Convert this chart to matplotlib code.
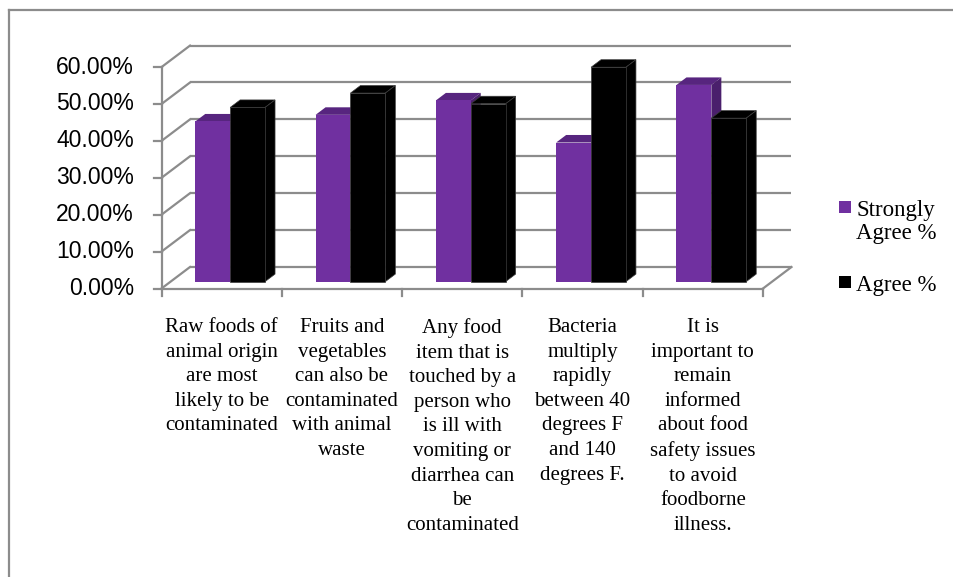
import matplotlib
matplotlib.use("Agg")
import matplotlib.pyplot as plt
from matplotlib.patches import Polygon, Rectangle
from matplotlib.lines import Line2D

# ---- data -------------------------------------------------------------
categories = [
    "Raw foods of\nanimal origin\nare most\nlikely to be\ncontaminated",
    "Fruits and\nvegetables\ncan also be\ncontaminated\nwith animal\nwaste",
    "Any food\nitem that is\ntouched by a\nperson who\nis ill with\nvomiting or\ndiarrhea can\nbe\ncontaminated",
    "Bacteria\nmultiply\nrapidly\nbetween 40\ndegrees F\nand 140\ndegrees F.",
    "It is\nimportant to\nremain\ninformed\nabout food\nsafety issues\nto avoid\nfoodborne\nillness.",
]
strongly_agree = [43.4, 45.2, 49.1, 37.7, 53.3]
agree = [47.2, 51.1, 48.2, 58.1, 44.3]
series_names = ["Strongly\nAgree %", "Agree %"]
y_ticks = [0, 10, 20, 30, 40, 50, 60]
y_tick_labels = ["0.00%", "10.00%", "20.00%", "30.00%", "40.00%", "50.00%", "60.00%"]

# ---- styling ----------------------------------------------------------
W, H, DPI = 954, 577, 100
PX_CAT = 120.3          # pixels per category on the front plane
PX_PCT = 3.69           # pixels per percent
DEPTH_X = 28.5 / PX_CAT  # depth offset of back wall (data units)
DEPTH_Y = 21.5 / PX_PCT
BAR_W = 0.29
BAR_D0, BAR_D1 = 0.32, 0.67  # bar depth span as a fraction of the wall depth
GRID = "#8c8c8c"
purple = dict(front="#7030A0", top="#57257f", side="#4a1f6c")
black = dict(front="#000000", top="#000000", side="#000000")

fig = plt.figure(figsize=(W / DPI, H / DPI), dpi=DPI)
n = len(categories)
ax_left, ax_bottom = 161.5, 288.5
ax_w = (n + DEPTH_X) * PX_CAT
ax_h = (60 + DEPTH_Y) * PX_PCT
ax = fig.add_axes([ax_left / W, (H - ax_bottom) / H, ax_w / W, ax_h / H])
ax.set_xlim(0, n + DEPTH_X)
ax.set_ylim(0, 60 + DEPTH_Y)
ax.axis("off")

glw = 1.6
# back wall gridlines and side-wall diagonals
for v, lab in zip(y_ticks, y_tick_labels):
    ax.plot([DEPTH_X, n + DEPTH_X], [v + DEPTH_Y, v + DEPTH_Y], color=GRID,
            lw=glw, zorder=1, clip_on=False, solid_capstyle="butt")
    ax.plot([0, DEPTH_X], [v, v + DEPTH_Y], color=GRID, lw=glw, zorder=1,
            clip_on=False)
    # tick marks on the front value axis
    ax.plot([-8 / PX_CAT, 0], [v, v], color=GRID, lw=glw, zorder=1, clip_on=False)
    ax.text(-27.5 / PX_CAT, v, lab, ha="right", va="center", fontsize=16.5,
            family="Liberation Sans", color="#000000")

# front value axis, floor front edge and right floor edge
ax.plot([0, 0], [-7 / PX_PCT, 60], color=GRID, lw=glw, zorder=1, clip_on=False)
ax.plot([0, n], [0, 0], color=GRID, lw=glw, zorder=1, clip_on=False)
ax.plot([n, n + DEPTH_X], [0, DEPTH_Y], color=GRID, lw=glw, zorder=1, clip_on=False)
for i in range(1, n + 1):
    ax.plot([i, i], [0, -7 / PX_PCT], color=GRID, lw=glw, zorder=1, clip_on=False)

# bars: front faces through ax.bar, top and right faces as polygons
x0 = BAR_D0 * DEPTH_X
y0 = BAR_D0 * DEPTH_Y
dx = (BAR_D1 - BAR_D0) * DEPTH_X
dy = (BAR_D1 - BAR_D0) * DEPTH_Y
centers = [i + 0.495 for i in range(n)]
for k, (vals, col) in enumerate([(strongly_agree, purple), (agree, black)]):
    lefts = [c - BAR_W + k * BAR_W + x0 for c in centers]
    ec = "#3c3c3c" if col is black else "none"
    ax.bar(lefts, vals, width=BAR_W, bottom=y0, align="edge",
           color=col["front"], edgecolor=ec, linewidth=0.5, zorder=3)
    for l, v in zip(lefts, vals):
        top = y0 + v
        r = l + BAR_W
        ax.add_patch(Polygon([(l, top), (r, top), (r + dx, top + dy), (l + dx, top + dy)],
                             closed=True, facecolor=col["top"], edgecolor=ec,
                             linewidth=0.5, zorder=2))
        ax.add_patch(Polygon([(r, y0), (r, top), (r + dx, top + dy), (r + dx, y0 + dy)],
                             closed=True, facecolor=col["side"], edgecolor=ec,
                             linewidth=0.5, zorder=2))

# category labels
for i, lab in enumerate(categories):
    ax.text(i + 0.5, -29.5 / PX_PCT, lab, ha="center", va="top",
            multialignment="center", fontsize=15, family="Liberation Serif",
            linespacing=1.4, color="#000000")

# legend
leg_items = [(series_names[0], purple["front"], 201), (series_names[1], black["front"], 276)]
for name, c, ytop in leg_items:
    fig.add_artist(Rectangle((839 / W, (H - ytop - 12) / H), 12 / W, 12 / H,
                             transform=fig.transFigure, facecolor=c, edgecolor="none"))
    fig.text(856.5 / W, (H - ytop + 1) / H, name, ha="left", va="top",
             fontsize=16.5, family="Liberation Serif", linespacing=1.15)

# chart-area frame (left and top edges)
fig.add_artist(Line2D([9 / W, 9 / W], [0, (H - 10) / H], transform=fig.transFigure,
                      color="#8c8c8c", lw=1.6))
fig.add_artist(Line2D([9 / W, 1], [(H - 10) / H, (H - 10) / H], transform=fig.transFigure,
                      color="#8c8c8c", lw=1.6))

fig.savefig("out.png", dpi=DPI)
